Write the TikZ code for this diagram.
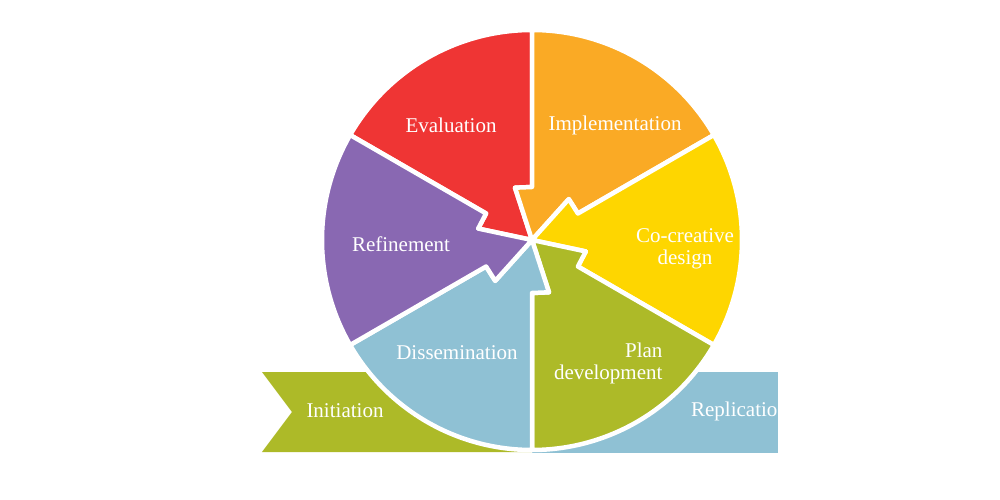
\documentclass[tikz,border=0pt]{standalone}
\usepackage{fontspec}
\setmainfont{Liberation Serif}
\usetikzlibrary{positioning}
\definecolor{evalred}{RGB}{239,53,52}
\definecolor{implorange}{RGB}{250,170,37}
\definecolor{designyellow}{RGB}{254,214,0}
\definecolor{planolive}{RGB}{173,186,40}
\definecolor{dissblue}{RGB}{143,193,212}
\definecolor{refpurple}{RGB}{137,104,178}

\begin{document}
\begin{tikzpicture}[x=1pt,y=1pt,line join=round,
      sector/.style={draw=white,line width=4.5pt},
      phase/.style={text=white,font=\fontsize{21}{22}\selectfont,align=center}]
  \useasboundingbox (-532,240) rectangle (468,-260);
  \fill[planolive] (-270,-132) -- (-240,-172) -- (-270,-212) -- (0,-212) -- (0,-132) -- cycle;
  \fill[dissblue] (0,-132) rectangle (246,-213);
  \foreach \a/\col in {90/evalred,30/implorange,-30/designyellow,-90/planolive,210/dissblue,150/refpurple}
    \filldraw[sector,fill=\col] (0,0) -- (\a+18:55) -- (\a:53) -- (\a:210)
      arc[start angle=\a,end angle=\a+60,radius=210] -- (\a+60:53) -- (\a+78:55) -- cycle;
  \node[phase] (evaluation) at (-81,115) {Evaluation};
  \node[phase] (implementation) at (83,115) {Implementation};
  \node[phase] (codesign) at (153,-9) {Co-creative\\design};
  \node[phase] (refinement) at (-131,-4) {Refinement};
  \node[phase] (dissemination) at (-75,-113) {Dissemination};
  \node[phase,align=right,anchor=east] (plandev) at (134,-123) {Plan\\development};
  \node[phase] (initiation) at (-187,-171) {Initiation};
  \node[phase,anchor=east] (replication) at (249,-171) {Replicatio};
\end{tikzpicture}
\end{document}
